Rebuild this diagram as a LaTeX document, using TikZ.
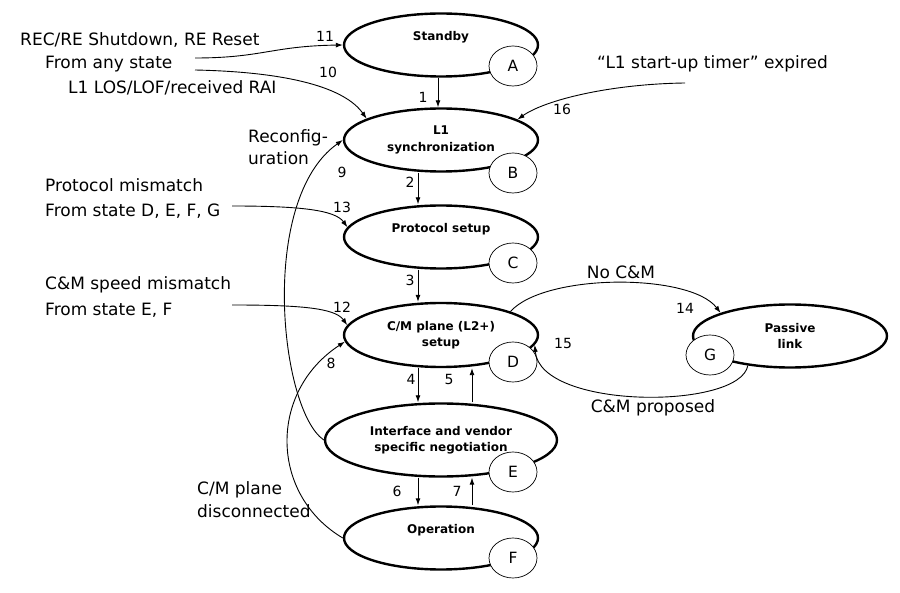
\documentclass[tikz,border=0pt]{standalone}
\usepackage{fontspec}
\setmainfont{DejaVu Sans}
\usetikzlibrary{shapes.geometric,arrows.meta}

\begin{document}
\begin{tikzpicture}[x=1pt,y=-1pt,
    state/.style={ellipse, draw, line width=2.4pt, minimum width=194pt, minimum height=63pt,
        inner sep=0pt, align=center, font=\bfseries\fontsize{12}{16.5}\selectfont},
    single/.style={text height=9pt, text depth=18pt},
    tag/.style={ellipse, draw, line width=0.7pt, fill=white, minimum width=48pt,
        minimum height=40pt, inner sep=0pt, font=\fontsize{15.5}{18}\selectfont},
    note/.style={anchor=base west, inner sep=0pt, font=\fontsize{17}{20}\selectfont},
    num/.style={inner sep=0pt, font=\fontsize{14}{16}\selectfont},
    trans/.style={line width=0.9pt, -{Latex[length=7pt,width=5pt]}}
]
\useasboundingbox (0,0) rectangle (900,593);

% states
\node (A) [state, single] at (441,45) {Standby};
\node (B) [state] at (441,140) {L1\\synchronization};
\node (C) [state, single] at (441,237) {Protocol setup};
\node (D) [state, minimum height=64pt] at (441,335) {C/M plane (L2+)\\setup};
\node (E) [state, minimum width=232pt, minimum height=73pt] at (441,440)
    {Interface and vendor\\specific negotiation};
\node (F) [state, single] at (441,538) {Operation};
\node (G) [state] at (790,336) {Passive\\link};

% state letters
\node (tagA) [tag] at (513,66) {A};
\node (tagB) [tag] at (513,173) {B};
\node (tagC) [tag] at (513,263) {C};
\node (tagD) [tag] at (513,362) {D};
\node (tagE) [tag] at (513,472) {E};
\node (tagF) [tag] at (513,558) {F};
\node (tagG) [tag] at (710,355) {G};

% events
\node (rec) [note] at (20,46) {REC/RE Shutdown, RE Reset};
\node (anyst) [note] at (45,69) {From any state};
\node (los) [note] at (68,94) {L1 LOS/LOF/received RAI};
\node (protmis) [note] at (45,192) {Protocol mismatch};
\node (fromDEFG) [note] at (45,217) {From state D, E, F, G};
\node (speedmis) [note] at (45,290) {C\&M speed mismatch};
\node (fromEF) [note] at (45,316) {From state E, F};
\node (timer) [note] at (597,69) {“L1 start-up timer” expired};
\node (recon1) [note] at (248,143) {Reconfig-};
\node (recon2) [note] at (248,165) {uration};
\node (cmdis1) [note] at (197,494) {C/M plane};
\node (cmdis2) [note] at (197,518) {disconnected};
\node (nocm) [note, anchor=base] at (621,279) {No C\&M};
\node (cmprop) [note, anchor=base] at (653,413) {C\&M proposed};

\coordinate (s11) at (195,58);
\coordinate (s10) at (195,70);
\coordinate (s13) at (232,206);
\coordinate (s12) at (232,305);
\coordinate (s16) at (685,83);

% transitions
\draw[trans] ([xshift=-3pt]A.south) -- ([xshift=-3pt]B.north);
\draw[trans] ([xshift=-23pt]B.south) -- ([xshift=-23pt]C.north);
\draw[trans] ([xshift=-23pt]C.south) -- ([xshift=-23pt]D.north);
\draw[trans] ([xshift=-23pt]D.south) -- ([xshift=-23pt]E.north);
\draw[trans] ([xshift=31pt]E.north) -- ([xshift=31pt]D.south);
\draw[trans] ([xshift=-23pt]E.south) -- ([xshift=-23pt]F.north);
\draw[trans] ([xshift=31pt]F.north) -- ([xshift=31pt]E.south);
\draw[trans] (F.west) .. controls (270,495) and (268,392) .. (D.184);
\draw[trans] (E.west) .. controls (280,410) and (258,200) .. (B.west);
\draw[trans] (s10) .. controls (290,72) and (345,88) .. (B.164);
\draw[trans] (s11) .. controls (262,58) and (272,46) .. (A.west);
\draw[trans] (s12) .. controls (300,305) and (335,308) .. (D.174);
\draw[trans] (s13) .. controls (300,206) and (335,210) .. (C.174);
\draw[trans] (D.north east) .. controls (545,273) and (690,273) .. (G.north west);
\draw[trans] (G.215) .. controls (740,410) and (540,410) .. (D.-6);
\draw[trans] (s16) .. controls (610,84) and (545,100) .. (B.15);

% numbers
\node (n1) [num] at (423,97) {1};
\node (n2) [num] at (410,182) {2};
\node (n3) [num] at (410,280) {3};
\node (n4) [num] at (411,379) {4};
\node (n5) [num] at (449,379) {5};
\node (n6) [num] at (397,491) {6};
\node (n7) [num] at (457,491) {7};
\node (n8) [num] at (331,363) {8};
\node (n9) [num] at (342,172) {9};
\node (n10) [num] at (328,72) {10};
\node (n11) [num] at (325,36) {11};
\node (n12) [num] at (342,307) {12};
\node (n13) [num] at (342,207) {13};
\node (n14) [num] at (685,308) {14};
\node (n15) [num] at (563,343) {15};
\node (n16) [num] at (562,109) {16};
\end{tikzpicture}
\end{document}
